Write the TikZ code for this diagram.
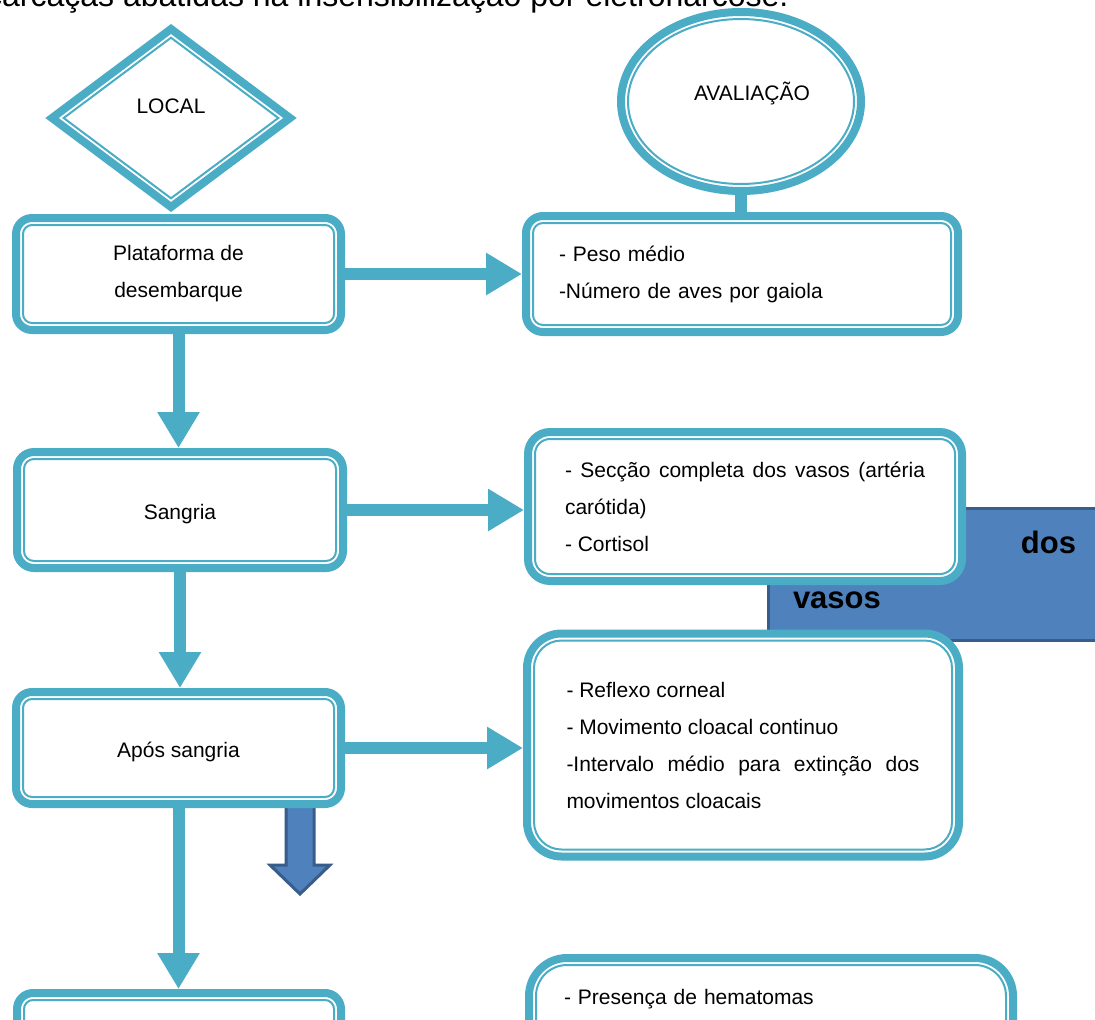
\documentclass[tikz,border=0pt]{standalone}
\usepackage{fontspec}
\setmainfont{Liberation Sans}
\usetikzlibrary{shapes.geometric,arrows.meta,positioning}
\definecolor{aqua}{RGB}{75,172,198}
\definecolor{accblue}{RGB}{79,129,189}
\definecolor{accedge}{RGB}{56,93,138}
\setlength\parindent{0pt}
\hyphenpenalty=10000 \exhyphenpenalty=10000
\tolerance=10000 \hbadness=10000

\tikzset{
  stage/.style={draw=aqua, fill=white, line width=8pt, inner sep=0pt,
    font=\fontsize{21}{37}\selectfont},
  innerline/.style={draw=aqua, line width=2pt},
  flow/.style={draw=aqua, line width=12pt, -{Triangle[length=36pt,width=40pt]}},
  link/.style={draw=aqua, line width=12pt},
  bluebox/.style={draw=accedge, fill=accblue, line width=3pt}
}
% thin line inside the thick border of a box
\newcommand\innerframe[2]{\draw[innerline, rounded corners=#2]
  ([shift={(11pt,-11pt)}]#1.north west) rectangle ([shift={(-11pt,11pt)}]#1.south east);}

\begin{document}
\begin{tikzpicture}[x=1pt, y=-1pt]
  \useasboundingbox (0,0) rectangle (1095,1020);
  \fill[white] (0,0) rectangle (1095,1020);
  \clip (0,0) rectangle (1095,1020);

  % caption cut at the top
  \node[anchor=base west, inner sep=0pt, font=\fontsize{32}{38}\selectfont] (caption)
    at (-14,6) {carcaças abatidas na insensibilização por eletronarcose.};

  % box behind the evaluation boxes
  \node[bluebox, anchor=north west, outer sep=0pt, inner xsep=25pt, inner ysep=0pt,
    text width=283pt, text height=45pt, text depth=87pt, align=left,
    font=\fontsize{31}{55}\selectfont\bfseries] (vasos) at (768,508) {\hfill dos\\vasos};

  % top row
  \node[stage, diamond, outer sep=0pt, minimum width=238pt, minimum height=178pt,
    text depth=24pt] (local) at (171,118) {LOCAL};
  \draw[innerline] ([yshift=80.3pt]local.center) -- ([xshift=107.3pt]local.center)
    -- ([yshift=-80.3pt]local.center) -- ([xshift=-107.3pt]local.center) -- cycle;

  \node[stage, ellipse, minimum width=240pt, minimum height=179pt,
    text depth=20pt] (aval) at (741,101.5) {\hspace*{22pt}AVALIAÇÃO};
  \draw[innerline] (aval.center) ellipse [x radius=113pt, y radius=82.5pt];

  % left column
  \node[stage, rounded corners=16pt, minimum width=325pt, minimum height=112pt,
    align=center] (plat) at (178.5,274) {Plataforma de\\desembarque};
  \innerframe{plat}{9pt}
  \node[stage, rounded corners=17pt, minimum width=326pt, minimum height=116pt,
    text height=23pt] (sang) at (180,510) {Sangria};
  \innerframe{sang}{10pt}
  \draw[bluebox] (286,802) -- (314,802) -- (314,865) -- (330,865) -- (300,894)
    -- (270,865) -- (286,865) -- cycle;
  \node[stage, rounded corners=16pt, minimum width=325pt, minimum height=112pt,
    text height=23pt] (apos) at (178.5,748) {Após sangria};
  \innerframe{apos}{9pt}
  \node[stage, rounded corners=16pt, minimum width=324pt, minimum height=112pt] (next) at (179,1049) {};
  \innerframe{next}{9pt}

  % right column
  \node[stage, rounded corners=17pt, minimum width=432pt, minimum height=116pt,
    text width=366pt, align=left] (peso) at (742,274) {- Peso médio\\-Número de aves por gaiola};
  \innerframe{peso}{10pt}
  \node[stage, rounded corners=22pt, minimum width=434pt, minimum height=149pt,
    text width=360pt, align=justify] (secc) at (745,506.5)
    {- Secção completa dos vasos (artéria carótida)\\- Cortisol};
  \innerframe{secc}{15pt}
  \node[stage, rounded corners=34.5pt, minimum width=432pt, minimum height=223pt,
    text width=353pt, align=justify] (refl) at (743,745)
    {- Reflexo corneal\\- Movimento cloacal continuo\\-Intervalo médio para extinção dos movimentos cloacais};
  \innerframe{refl}{27.5pt}
  \node[stage, rounded corners=38pt, minimum width=484pt, minimum height=242pt,
    text width=414pt, align=left, text height=46pt, text depth=196pt] (hemat) at (771,1079)
    {- Presença de hematomas};
  \innerframe{hemat}{31pt}

  % connectors
  \draw[link] (aval.south) -- (aval.south |- peso.north);
  \draw[flow] (plat.east) -- (plat.east -| peso.west);
  \draw[flow] (plat.south) -- (plat.south |- sang.north);
  \draw[flow] (sang.east) -- (sang.east -| secc.west);
  \draw[flow] (sang.south) -- (sang.south |- apos.north);
  \draw[flow] (apos.east) -- (apos.east -| refl.west);
  \draw[flow] (apos.south) -- (apos.south |- next.north);
\end{tikzpicture}
\end{document}
